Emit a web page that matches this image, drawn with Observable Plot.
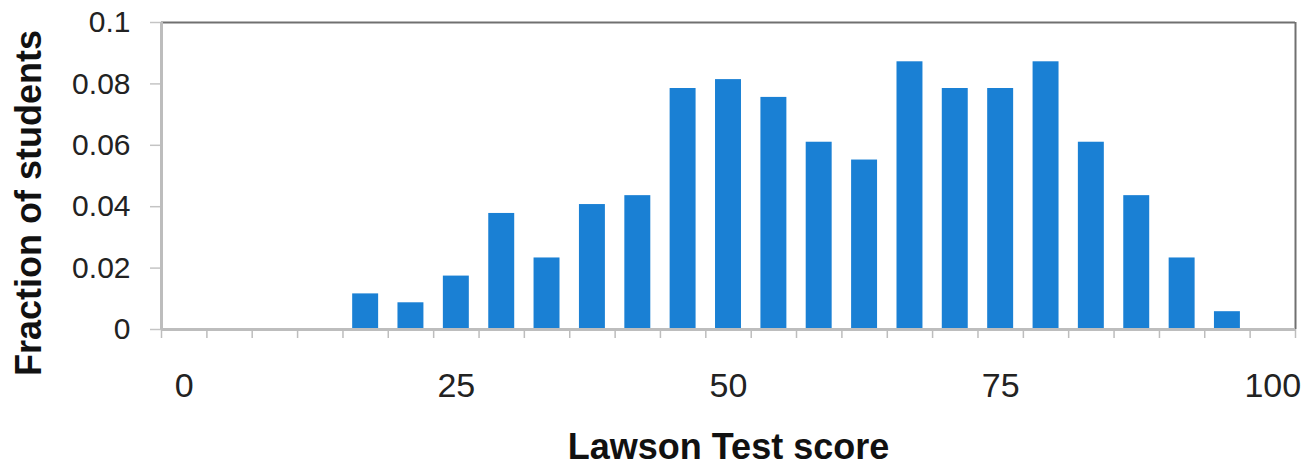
<!DOCTYPE html>
<html>
<head>
<meta charset="utf-8">
<script src="https://cdn.jsdelivr.net/npm/d3@7"></script>
<script src="https://cdn.jsdelivr.net/npm/@observablehq/plot@0.6"></script>
<style>
  html, body { margin: 0; padding: 0; background: #fff; }
  #chart svg { display: block; }
  #chart [aria-label="y-axis label"], #chart [aria-label="x-axis label"] { font-weight: bold; fill: #111; }
</style>
</head>
<body>
<div id="chart"></div>
<script>
// Lawson Test score categories (24 items → percent score)
const scores = [0, 4.17, 8.33, 12.5, 16.67, 20.83, 25, 29.17, 33.33, 37.5, 41.67, 45.83,
                50, 54.17, 58.33, 62.5, 66.67, 70.83, 75, 79.17, 83.33, 87.5, 91.67, 95.83, 100];
// Fraction of students per score
const fractions = [0, 0, 0, 0, 0.0116, 0.0087, 0.0174, 0.0378, 0.0233, 0.0407, 0.0436, 0.0785,
                   0.0814, 0.0756, 0.0610, 0.0552, 0.0872, 0.0785, 0.0785, 0.0872, 0.0610, 0.0436,
                   0.0233, 0.0058, 0];
const xTickLabels = [0, 25, 50, 75, 100];
const yTicks = [0, 0.02, 0.04, 0.06, 0.08, 0.1];

const step = 100 / 24;
const half = step / 2;
const data = scores.map((s, i) => ({score: s, fraction: fractions[i]})).filter(d => d.fraction > 0);
const boundaries = scores.map(s => s - half).concat([scores[scores.length - 1] + half]);

const chart = Plot.plot({
  width: 1306,
  height: 466,
  marginLeft: 161,
  marginRight: 11,
  marginTop: 22,
  marginBottom: 137,
  style: {fontFamily: "'Liberation Sans', Arial, sans-serif", color: "#222", background: "#fff"},
  x: {domain: [-half, 100 + half]},
  y: {domain: [0, 0.1]},
  marks: [
    Plot.rectY(data, {x1: d => d.score - half, x2: d => d.score + half, y: "fraction",
      fill: "#1a80d4", insetLeft: 9.7, insetRight: 9.7}),
    Plot.ruleY([0.1], {stroke: "#707070", strokeWidth: 2}),
    Plot.ruleX([100 + half], {stroke: "#707070", strokeWidth: 2}),
    Plot.axisY({ticks: yTicks, tickFormat: d => String(+d.toFixed(2)), tickSize: 11, tickPadding: 20,
      fontSize: 30, stroke: "#c4c4c4", strokeWidth: 1.5,
      label: "Fraction of students", labelAnchor: "center", labelOffset: 146, labelArrow: "none"}),
    Plot.ruleX([-half], {stroke: "#bdbdbd", strokeWidth: 3}),
    Plot.ruleY([0], {stroke: "#bdbdbd", strokeWidth: 3}),
    Plot.axisX({ticks: boundaries, tickFormat: () => "", tickSize: 9, stroke: "#bdbdbd", strokeWidth: 1.5, label: null}),
    Plot.axisX({ticks: xTickLabels, tickSize: 0, tickPadding: 43, fontSize: 34,
      label: "Lawson Test score", labelAnchor: "center", labelOffset: 129, labelArrow: "none"})
  ]
});
chart.querySelectorAll('[aria-label$="axis label"]').forEach(g => {
  g.setAttribute("font-size", 36);
  g.setAttribute("font-weight", "bold");
});
const yl = chart.querySelector('[aria-label="y-axis label"]');
if (yl) {
  const t = yl.getAttribute("transform") || "";
  yl.setAttribute("transform", "translate(0,27) " + t);
}
document.getElementById("chart").appendChild(chart);
</script>
</body>
</html>
